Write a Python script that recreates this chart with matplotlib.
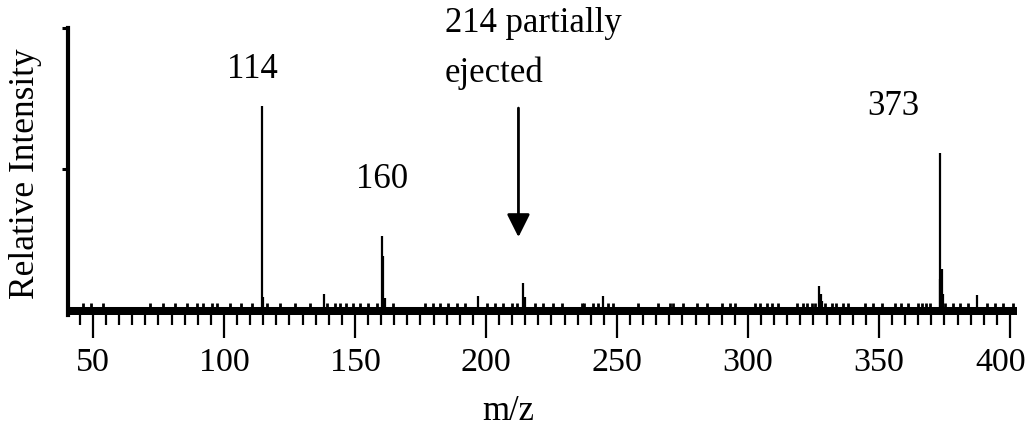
import matplotlib
matplotlib.use("Agg")
import matplotlib.pyplot as plt
import matplotlib.ticker as mticker
from matplotlib.transforms import ScaledTranslation

plt.rcParams['font.family'] = ['Liberation Serif', 'DejaVu Serif']

# main peaks (m/z, relative intensity)
peak_mz = [114.5, 115.0, 138.0, 160.3, 160.8, 161.4, 197.0, 214.3, 214.8,
           244.7, 327.2, 327.7, 328.2, 373.2, 373.4, 374.0, 374.6, 387.3]
peak_int = [72.4, 5.0, 6.1, 26.6, 19.5, 4.6, 5.3, 10.0, 5.0,
            5.3, 9.0, 6.0, 3.5, 11.3, 55.7, 14.9, 6.0, 5.6]

# small noise spikes along the baseline
noise_mz = [46.3, 49.1, 53.9, 71.8, 76.8, 81.3, 85.7, 89.6, 92.1, 95.3, 97.2,
            102.3, 106.4, 110.8, 116.3, 121.4, 127.1, 132.8, 139.2, 142.4,
            144.3, 146.6, 149.4, 151.9, 155.1, 158.3, 164.6, 176.7, 179.9,
            182.4, 185.6, 188.8, 192.0, 200.3, 203.4, 206.6, 209.8, 211.7,
            218.7, 221.9, 225.7, 228.9, 236.5, 237.5, 240.9, 242.8, 246.6,
            248.5, 258.1, 265.7, 270.2, 271.5, 275.3, 280.4, 284.2, 290.0,
            293.1, 295.0, 302.7, 304.6, 307.1, 309.0, 311.6, 318.6, 321.1,
            322.4, 324.3, 325.6, 329.4, 331.9, 333.8, 336.4, 338.3, 344.7,
            347.8, 351.0, 356.1, 358.6, 361.2, 365.0, 366.5, 368.0, 369.5,
            375.2, 378.4, 380.9, 384.1, 391.1, 394.3, 397.4, 401.2]
noise_int = [2.8] * len(noise_mz)

xticks = [50, 100, 150, 200, 250, 300, 350, 400]

fig = plt.figure(figsize=(10.33, 4.28), dpi=100)
ax = fig.add_axes([68 / 1033, 113 / 428, 949 / 1033, 287 / 428])
ax.set_xlim(40.46, 402.7)
ax.set_ylim(-1.42, 100)

# thick baseline
ax.axhline(0, color='black', lw=6.5, solid_capstyle='butt')
ax.vlines(noise_mz, 0, noise_int, color='black', lw=2)
ax.vlines(peak_mz, 0, peak_int, color='black', lw=1.6)

for s in ['top', 'right', 'bottom']:
    ax.spines[s].set_visible(False)
ax.spines['left'].set_linewidth(3)

ax.xaxis.set_major_locator(mticker.FixedLocator(xticks))
ax.xaxis.set_minor_locator(mticker.MultipleLocator(5))
ax.tick_params(axis='x', which='major', direction='out', length=16.5, width=1.6,
               labelsize=24.5, pad=7)
ax.tick_params(axis='x', which='minor', direction='out', length=7, width=1.6)

ax.yaxis.set_major_locator(mticker.FixedLocator([50, 100]))
ax.yaxis.set_minor_locator(mticker.FixedLocator([12.5, 25, 37.5, 62.5, 75, 87.5]))
ax.tick_params(axis='y', which='major', direction='out', length=4.5, width=2.2,
               labelleft=False)
ax.tick_params(axis='y', which='minor', direction='out', length=1.5, width=2,
               labelleft=False)

# last label sits a little left of its tick, as in the original
fig.canvas.draw()
last = ax.get_xticklabels()[-1]
last.set_transform(last.get_transform() + ScaledTranslation(-0.09, 0, fig.dpi_scale_trans))

# peak labels
ax.text(110.7, 82.3, '114', fontsize=25, ha='center', va='baseline')
ax.text(160.2, 43.5, '160', fontsize=25, ha='center', va='baseline')
ax.text(355.3, 69.3, '373', fontsize=25, ha='center', va='baseline')
ax.text(184.4, 98.6, '214 partially', fontsize=25, ha='left', va='baseline')
ax.text(184.4, 80.9, 'ejected', fontsize=25, ha='left', va='baseline')
ax.annotate('', xy=(212.4, 26.1), xytext=(212.4, 71.7),
            arrowprops=dict(arrowstyle='-|>,head_length=0.7,head_width=0.35',
                            mutation_scale=20, lw=2, color='black',
                            shrinkA=0, shrinkB=0))

fig.text(26 / 1033, 1 - 173.5 / 428, 'Relative Intensity', fontsize=25.5,
         rotation=90, ha='center', va='center')
fig.text(508 / 1033, 0.5 / 428, 'm/z', fontsize=25, ha='center', va='bottom')

fig.savefig('out.png', dpi=100)
